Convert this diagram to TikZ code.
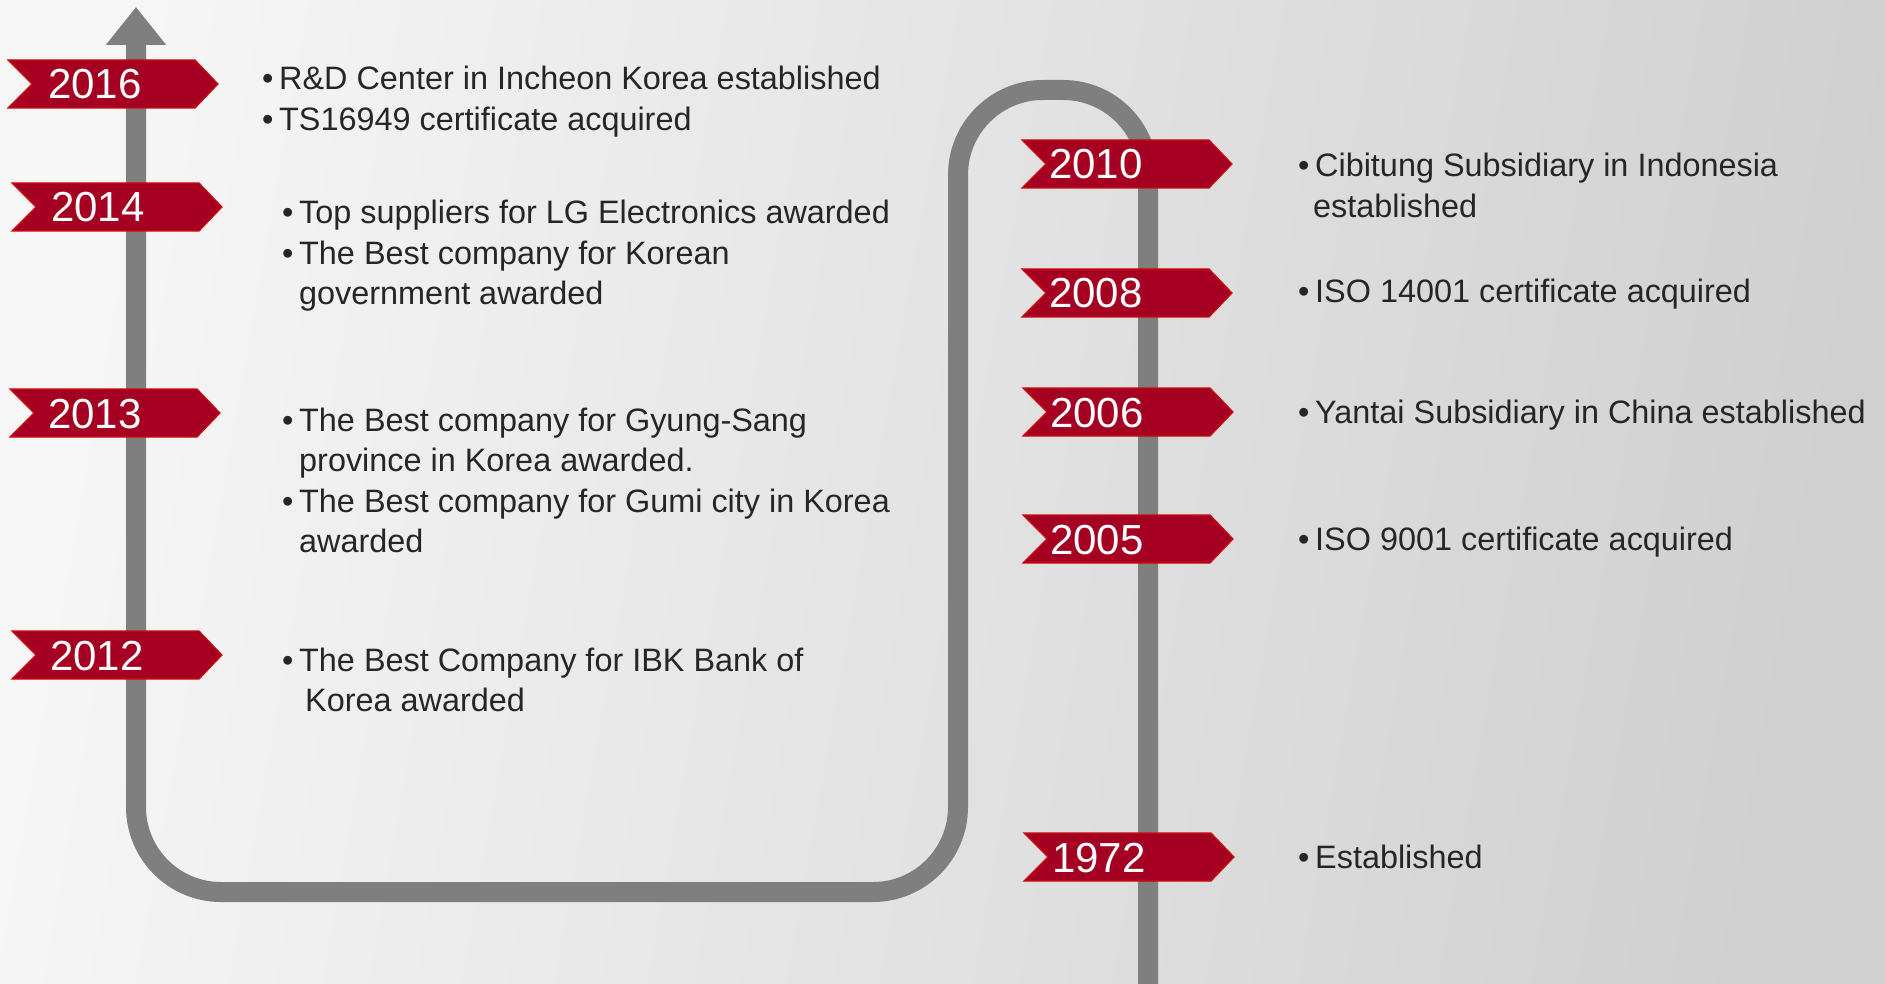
\documentclass[tikz,border=0pt]{standalone}
\usepackage{fontspec}
\setmainfont{Liberation Sans}
\usetikzlibrary{arrows.meta}
\definecolor{TagRed}{RGB}{165,0,33}
\definecolor{TagEdge}{RGB}{204,12,12}
\definecolor{LineGray}{RGB}{127,127,127}
\definecolor{TextGray}{RGB}{38,38,38}
\definecolor{BgLight}{RGB}{246,246,246}
\definecolor{BgMid}{RGB}{234,234,234}
\definecolor{BgDark}{RGB}{208,208,208}
\newcommand{\bul}{\makebox[17pt][l]{\textbullet}}
\tikzset{
    yeartag/.style={
        fill=TagRed, draw=TagEdge, line width=1.2pt, line join=miter
    },
    yeartext/.style={
        anchor=base west, inner sep=0pt, text=white, font=\fontsize{42}{42}\selectfont
    },
    eventtext/.style={ % placed at the baseline of the last line
        anchor=base west, inner sep=0pt, align=left, text=TextGray, font=\fontsize{32.4}{40.5}\selectfont
    },
    timeline/.style={
        draw=LineGray, line width=20pt
    }
}
\begin{document}
\begin{tikzpicture}[x=1pt, y=-1pt]
    % background
    \shade[left color=BgLight, middle color=BgMid, right color=BgDark, shading angle=80] (0,0) rectangle (1885,984);
    \useasboundingbox (0,0) rectangle (1885,984);

    % 1. the timeline, from 1972 at the bottom right up to the arrow
    \coordinate (tstart) at (1148,1000);
    \coordinate (tend) at (136,7);
    \draw[timeline, rounded corners=85pt, -{Triangle[length=38pt, width=58pt]}]
        (tstart) -- (1148,90) -- (958,90) -- (958,892) -- (136,892) -- (tend);

    % 2. the year tags
    \foreach \yr/\lx/\cy/\tx in {2016/8/84/40, 2014/12/207/39, 2013/10/413/38, 2012/12/655/38,
                                 2010/1022/164/27, 2008/1022/293/27, 2006/1023/412/27,
                                 2005/1023/539/27, 1972/1024/857/28}{
        \filldraw[yeartag] (\lx,\cy-24) -- ++(187,0) -- ++(23,24) -- ++(-23,24) -- ++(-187,0) -- ++(24,-24) -- cycle;
        \node[yeartext] (y\yr) at (\lx+\tx,\cy+15) {\yr};
    }

    % 3. what happened in each year
    \node[eventtext] (e2016) at (262,130.5) {\bul R\&D Center in Incheon Korea established\\
        \bul TS16949 certificate acquired};
    \node[eventtext] (e2014) at (282,305) {\bul Top suppliers for LG Electronics awarded\\
        \bul The Best company for Korean\\
        \hspace*{17pt}government awarded};
    \node[eventtext] (e2013) at (282,552.5) {\bul The Best company for Gyung-Sang\\
        \hspace*{17pt}province in Korea awarded.\\
        \bul The Best company for Gumi city in Korea\\
        \hspace*{17pt}awarded};
    \node[eventtext] (e2012) at (282,711.5) {\bul The Best Company for IBK Bank of\\
        \hspace*{23pt}Korea awarded};

    \node[eventtext] (e2010) at (1298,217.5) {\bul Cibitung Subsidiary in Indonesia\\
        \hspace*{15pt}established};
    \node[eventtext] (e2008) at (1298,303) {\bul ISO 14001 certificate acquired};
    \node[eventtext] (e2006) at (1298,423) {\bul Yantai Subsidiary in China established};
    \node[eventtext] (e2005) at (1298,550) {\bul ISO 9001 certificate acquired};
    \node[eventtext] (e1972) at (1298,868) {\bul Established};

\end{tikzpicture}
\end{document}
